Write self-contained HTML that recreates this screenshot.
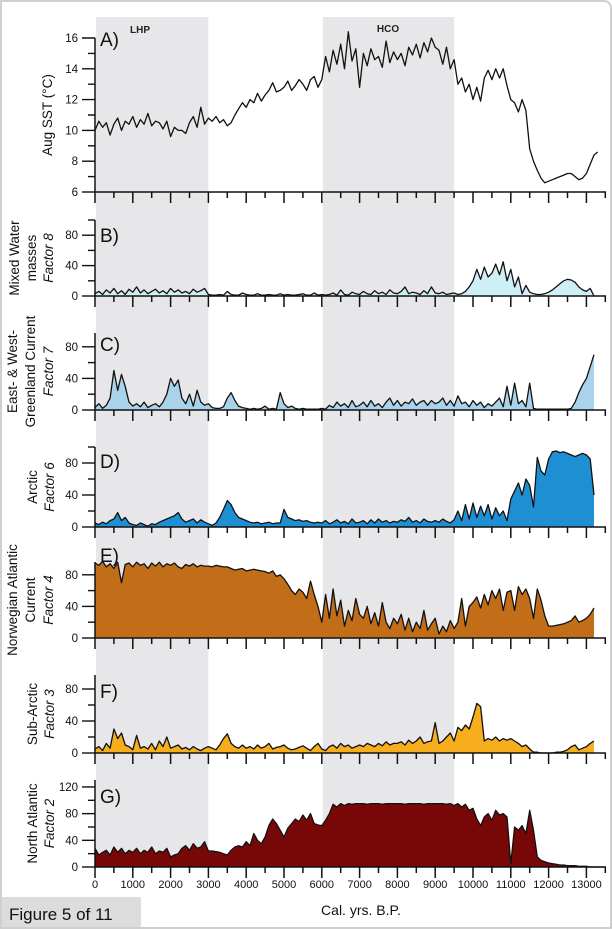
<!DOCTYPE html>
<html><head><meta charset="utf-8"><style>
html,body{margin:0;padding:0;background:#fff;}
#wrap{position:relative;width:612px;height:929px;overflow:hidden;background:#fff;box-sizing:border-box;border:2px solid #cfcfcf;border-radius:0 8px 0 0;}
svg{position:absolute;left:-2px;top:-2px;}
text{font-family:"Liberation Sans",Arial,sans-serif;}
</style></head><body>
<div id="wrap">
<svg id="chart" width="612" height="929" viewBox="0 0 612 929"></svg>
</div>
<script>
// Ages sampled every 100 years starting at 0 (cal. yrs B.P.)
const AGE_STEP = 100;
const xTicks = [0,1000,2000,3000,4000,5000,6000,7000,8000,9000,10000,11000,12000,13000];
const shadeLHP = [0,3000];
const shadeHCO = [6000,9500];
const sstTicks = [6,8,10,12,14,16];
const factorTicks = [0,40,80];
const factor2Ticks = [0,40,80,120];

const sst = [10.0,10.6,10.2,10.5,9.7,10.4,10.8,10.0,10.6,10.4,
10.9,10.2,10.7,10.4,11.1,10.3,10.6,10.5,10.1,10.6,
9.6,10.2,10.0,10.0,9.8,10.5,10.9,10.2,11.5,10.4,
10.8,10.6,10.9,10.5,10.7,10.3,10.5,11.0,11.4,11.8,
11.5,12.0,11.8,12.4,11.9,12.3,12.6,13.1,12.5,12.6,
12.8,13.2,12.6,12.9,13.3,13.0,12.6,13.3,13.5,12.8,
13.3,14.8,13.8,15.2,14.3,15.6,14.0,16.4,14.5,15.3,
12.8,15.0,14.2,15.3,14.6,14.8,14.1,15.8,14.4,15.1,
14.6,15.0,14.2,15.4,14.9,15.6,14.7,15.7,15.1,16.0,
15.4,15.2,14.3,15.4,14.0,14.6,13.0,13.4,12.5,13.0,
12.0,12.8,11.9,13.4,13.9,13.3,14.0,13.4,14.0,12.9,
12.0,11.8,11.2,12.0,11.3,8.8,8.0,7.4,6.9,6.6,
6.7,6.8,6.9,7.0,7.1,7.2,7.2,7.0,6.8,6.9,
7.2,7.8,8.4,8.6];

const factor8 = [3,6,2,8,4,10,3,7,2,9, 5,12,4,8,3,6,9,4,7,3, 10,5,8,4,6,3,9,5,7,10,
2,1,1,2,1,6,2,1,1,4, 2,1,1,3,1,1,2,1,1,3, 1,2,1,1,2,3,1,1,4,1,
2,1,2,4,1,8,2,1,5,3, 2,6,3,2,7,3,5,2,8,4, 3,6,12,3,5,4,2,7,3,12,
4,3,5,2,3,4,2,3,6,12, 20,35,22,38,25,30,42,28,45,20, 35,12,25,3,14,5,3,2,2,3,
5,8,12,16,20,22,21,18,12,8, 6,10,0];

const factor7 = [3,8,2,6,15,50,25,45,30,10, 5,8,4,10,3,6,8,4,10,20, 40,30,38,15,8,20,5,25,10,6,
8,3,2,2,4,15,22,12,5,3, 2,1,2,1,2,5,1,2,1,22, 8,3,5,2,1,2,1,1,1,1,
2,1,6,3,10,5,8,3,12,4, 6,10,4,12,5,8,3,10,15,6, 12,5,10,8,14,6,10,12,6,12,
8,10,15,6,12,5,18,8,10,4, 12,6,10,3,8,5,10,15,4,30, 6,34,8,12,4,34,2,1,1,1,
1,1,1,1,1,1,2,10,22,32, 40,55,70];

const factor6 = [5,3,6,4,8,10,18,8,12,5, 3,2,5,3,1,4,3,6,8,10, 12,14,18,10,6,8,10,5,9,6,
4,2,5,12,22,33,28,18,12,10, 8,6,5,6,4,5,6,4,5,5, 22,12,10,8,9,7,8,6,5,6,
5,8,4,6,9,5,7,4,10,5, 6,8,4,9,5,10,6,8,5,7, 6,9,7,12,6,8,5,10,7,6,
8,6,10,7,5,9,20,8,28,10, 30,12,26,14,28,10,24,14,20,8, 35,45,55,40,60,52,25,87,70,65,
85,94,95,93,94,92,90,88,90,92, 90,85,40];

const factor4 = [95,92,97,90,94,88,96,70,93,95, 90,96,92,94,88,95,91,96,90,94, 92,95,90,88,93,91,94,90,92,91,
91,90,92,91,90,90,88,86,87,88, 85,86,87,86,85,84,82,85,78,80, 75,68,60,55,62,58,50,72,55,40,
20,55,25,62,28,48,15,35,22,50, 30,25,40,18,32,15,45,20,12,25, 18,30,10,25,8,20,12,35,10,18,
25,5,15,8,22,12,20,50,15,40, 45,52,38,55,42,60,50,62,35,58, 60,35,65,55,62,50,25,62,48,28,
15,15,16,17,18,20,22,28,20,22, 25,30,38];

const factor3 = [5,8,3,12,6,30,18,25,10,8, 4,22,6,8,5,12,4,15,8,20, 6,8,10,5,7,4,8,5,3,6,
8,6,4,10,18,24,12,8,6,10, 6,8,5,10,6,8,12,5,7,8, 10,6,4,5,7,9,6,3,8,12,
5,3,8,10,6,12,8,10,6,8, 10,8,12,10,8,12,9,14,10,12, 12,14,10,16,12,15,20,12,14,15,
38,12,15,20,25,15,32,28,35,30, 45,62,58,15,18,16,20,15,18,16, 18,15,12,8,10,5,1,1,0,0,
0,0,1,1,2,4,8,10,4,6, 8,12,15];

const factor2 = [28,18,22,25,18,30,22,28,20,25, 22,28,20,25,22,30,20,24,22,28, 15,18,20,28,32,25,35,28,30,38,
24,24,23,22,20,18,25,30,32,30, 38,32,50,40,35,45,62,72,65,55, 45,58,65,72,68,78,70,80,65,63,
62,70,80,94,90,95,92,95,94,95, 95,95,94,95,95,95,94,95,95,95, 95,95,94,95,95,95,95,94,95,95,
95,95,95,94,95,92,95,90,94,85, 88,72,62,75,80,70,85,78,80,75, 5,60,55,62,50,85,55,15,10,8,
6,5,4,3,3,2,2,2,1,1, 1,0,0,0,0,0];

const NS = 'http://www.w3.org/2000/svg';
const svg = document.getElementById('chart');
const X0 = 95, XPX = 0.0378;
function xScale(age){ return X0 + age*XPX; }
function mk(tag, attrs, parent){
  const e = document.createElementNS(NS, tag);
  for (const k in attrs) e.setAttribute(k, attrs[k]);
  (parent||svg).appendChild(e);
  return e;
}

const gShade = mk('g', {});


[[shadeLHP,'lhp-band'],[shadeHCO,'hco-band']].forEach(([r,n])=>{
  const rc = mk('rect', {x:xScale(r[0])+1, y:17, width:xScale(r[1])-xScale(r[0])-1, height:850, fill:'#e7e7e9'}, gShade);
  
  
});
const t1 = mk('text',{x:140,y:33,'font-size':10,'font-weight':'bold','text-anchor':'middle',fill:'#222'}); t1.textContent='LHP';


const t2 = mk('text',{x:388,y:32,'font-size':10,'font-weight':'bold','text-anchor':'middle',fill:'#222'}); t2.textContent='HCO';



const panels = [
  {id:'a', data:sst, base:192, k:15.4, min:6, top:38, fill:null, letter:'A)', ly:46, ticks:sstTicks, minor:1, titles:[['Aug SST (°C)',false]], tx:[52]},
  {id:'b', data:factor8, base:296, k:0.76, min:0, top:220, fill:'#cfeff6', letter:'B)', ly:242, ticks:factorTicks, minor:20, titles:[['Mixed Water',false],['masses',false],['Factor 8',true]], tx:[19,36,53]},
  {id:'c', data:factor7, base:410, k:0.79, min:0, top:333, fill:'#a8d3ea', letter:'C)', ly:351, ticks:factorTicks, minor:20, titles:[['East- & West-',false],['Greenland Current',false],['Factor 7',true]], tx:[17,35,53]},
  {id:'d', data:factor6, base:527, k:0.80, min:0, top:447, fill:'#1f8fd4', letter:'D)', ly:468, ticks:factorTicks, minor:20, titles:[['Arctic',false],['Factor 6',true]], tx:[37,54]},
  {id:'e', data:factor4, base:638, k:0.79, min:0, top:562, fill:'#c26d17', letter:'E)', ly:562, ticks:factorTicks, minor:20, titles:[['Norwegian Atlantic',false],['Current',false],['Factor 4',true]], tx:[17,35,53]},
  {id:'f', data:factor3, base:753, k:0.80, min:0, top:675, fill:'#f6ae1c', letter:'F)', ly:698, ticks:factorTicks, minor:20, titles:[['Sub-Arctic',false],['Factor 3',true]], tx:[37,54]},
  {id:'g', data:factor2, base:867, k:0.667, min:0, top:780, fill:'#780808', letter:'G)', ly:803, ticks:factor2Ticks, minor:20, titles:[['North Atlantic',false],['Factor 2',true]], tx:[37,54]}
];

panels.forEach(p=>{
  const g = mk('g', {});
  
  
  const yS = v => p.base - (v - p.min)*p.k;
  const pts = p.data.map((v,i)=> xScale(i*AGE_STEP).toFixed(1)+','+yS(v).toFixed(1));
  if (p.fill){
    const lastX = xScale((p.data.length-1)*AGE_STEP);
    const poly = mk('polygon', {points: xScale(0)+','+p.base+' '+pts.join(' ')+' '+lastX+','+p.base, fill:p.fill, stroke:'none'}, g);
    
    
  }
  const line = mk('polyline', {points:pts.join(' '), fill:'none', stroke:'#111', 'stroke-width':1.3, 'stroke-linejoin':'round'}, g);
  
  
  const xa = mk('g', {}, g);
  
  
  mk('line', {x1:X0, y1:p.base, x2:606, y2:p.base, stroke:'#111','stroke-width':1.6}, xa);
  for (let a=0; a<=13500; a+=500){
    const major = a%1000===0;
    mk('line', {x1:xScale(a), x2:xScale(a), y1:p.base, y2:p.base+(major?11:6), stroke:'#111','stroke-width':1.5}, xa);
  }
  const ya = mk('g', {}, g);
  
  
  mk('line', {x1:X0, y1:p.top, x2:X0, y2:p.base, stroke:'#111','stroke-width':1.5}, ya);
  const maxV = p.min + (p.base-p.top)/p.k;
  for (let v=p.min; v<=maxV+0.01; v+=p.minor){
    const isMajor = p.ticks.indexOf(Math.round(v))>=0;
    mk('line', {x1:isMajor?82:88, x2:X0, y1:yS(v), y2:yS(v), stroke:'#111','stroke-width':1.4}, ya);
  }
  p.ticks.forEach(v=>{
    const t = mk('text', {x:78, y:yS(v)+4, 'font-size':11.5, 'text-anchor':'end', fill:'#111'}, ya);
    t.textContent = v;
    
    
  });
  const L = mk('text', {x:100, y:p.ly, 'font-size':19, fill:'#111'}, g);
  L.textContent = p.letter;
  
  
  const cy = (p.top + p.base)/2;
  p.titles.forEach((tt,i)=>{
    const t = mk('text', {x:0, y:0, 'font-size':13.5, 'text-anchor':'middle', fill:'#111', 'font-style':tt[1]?'italic':'normal', transform:'translate('+p.tx[i]+','+cy+') rotate(-90)'}, g);
    t.textContent = tt[0];
    
    
  });
});

xTicks.forEach(a=>{
  const t = mk('text', {x:xScale(a), y:888, 'font-size':11, 'text-anchor':'middle', fill:'#111'});
  t.textContent = a;
  
  
});
const xt = mk('text', {x:361, y:915, 'font-size':14, 'text-anchor':'middle', fill:'#111'});
xt.textContent = 'Cal. yrs. B.P.';



const cap = mk('g', {});


mk('rect', {x:2, y:897, width:139, height:30, fill:'#dcdcdc'}, cap);
const ct = mk('text', {x:9, y:920, 'font-size':17, fill:'#111'}, cap);
ct.textContent = 'Figure 5 of 11';
</script>
</body></html>
